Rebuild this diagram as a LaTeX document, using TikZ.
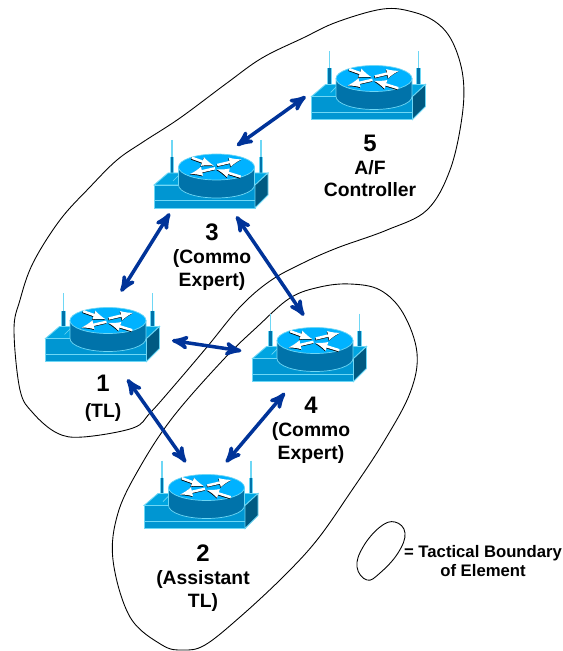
\documentclass[tikz,border=0pt]{standalone}
\usepackage{fontspec}
\setmainfont{Liberation Sans}
\usetikzlibrary{arrows}
\definecolor{linkblue}{RGB}{0,51,153}
\definecolor{routerline}{RGB}{110,215,245}
\definecolor{routerfront}{RGB}{0,150,210}
\definecolor{routertop}{RGB}{0,165,225}
\definecolor{routerside}{RGB}{0,90,130}
\definecolor{drumside}{RGB}{0,115,170}
\definecolor{drumtop}{RGB}{0,178,255}
\newcommand{\bignum}[1]{{\fontsize{13.6}{13}\selectfont #1}}
\tikzset{
	routerbox/.style={minimum width=2.28cm, minimum height=1.36cm, inner sep=0pt},
	link/.style={<->, >=stealth', draw=linkblue, line width=2pt},
	boundary/.style={draw=black, line width=0.5pt},
	rlabel/.style={align=center, font=\bfseries\fontsize{11}{13}\selectfont},
	pics/router/.style={code={
		% antennas
		\foreach \ax in {18,107} {
			\draw[routerline, line width=1pt] (\ax,-45) -- (\ax,-28);
			\draw[routerline, line width=2.4pt] (\ax,-28) -- (\ax,-8);
			\draw[drumside, line width=1.5pt] (\ax,-28) -- (\ax,-8);
		}
		\draw[routerline, fill=routertop, line width=0.5pt] (0,0) -- (14,-12) -- (114,-12) -- (101,0) -- cycle;
		\draw[routerline, fill=routerfront, line width=0.5pt] (0,0) rectangle (101,23);
		\draw[routerline, line width=0.5pt] (0,15.5) -- (101,15.5);
		\draw[routerline, fill=routerside, line width=0.5pt] (101,0) -- (114,-12) -- (114,10) -- (101,23) -- cycle;
		\draw[routerline, line width=0.4pt] (19,-4) -- (25,-10);
		% drum
		\draw[routerline, fill=drumside, line width=0.4pt] (24.5,-18) -- (24.5,0) arc[start angle=180, end angle=0, x radius=38, y radius=13] -- (100.5,-18) -- cycle;
		\draw[routerline, fill=drumtop, line width=0.4pt] (62.5,-18) ellipse[x radius=38, y radius=13];
		\foreach \ex/\ey/\fx/\fy in {37.7/-27.3/60/-19.3, 63.3/-20/87.7/-25.7, 61/-16.7/36/-11, 86.7/-8.3/62.7/-15.7} {
			\draw[black, line width=1.4pt, -latex] (\ex-0.5,\ey+0.7) -- (\fx-0.5,\fy+0.7);
			\draw[white, line width=1.4pt, -latex] (\ex,\ey) -- (\fx,\fy);
		}
	}}
}
\begin{document}
\begin{tikzpicture}[x=0.02cm,y=-0.02cm]
	\useasboundingbox (0,0) rectangle (563,651);
	
	% tactical boundaries
	\draw[boundary] plot[smooth cycle, tension=0.6] coordinates {(383,9) (413,12) (437,23) (453,43) (463,77) (462,117) (450,170) (427,210) (387,230) (337,248) (303,263) (270,281) (240,307) (207,347) (173,387) (150,413) (133,428) (83,437) (57,433) (33,413) (20,390) (14,330) (20,300) (33,263) (60,220) (90,187) (117,160) (143,142) (180,118) (227,83) (262,58) (303,38) (337,22)};
	\draw[boundary] plot[smooth cycle, tension=0.6] coordinates {(350,284) (380,290) (403,313) (417,353) (410,393) (383,443) (350,493) (317,540) (283,577) (240,617) (205,645) (183,650) (162,645) (130,617) (113,560) (118,513) (140,467) (173,417) (223,360) (257,327) (290,298) (320,287)};
	\draw[boundary] plot[smooth cycle, tension=0.7] coordinates {(395,522) (405,533) (398,553) (380,573) (367,580) (357,567) (363,547) (380,527)};
	
	% routers
	\node[routerbox] (r1) at (102.5,327.5) {};
	\node[routerbox] (r2) at (201,494.5) {};
	\node[routerbox] (r3) at (211,174) {};
	\node[routerbox] (r4) at (309.5,347.5) {};
	\node[routerbox] (r5) at (368.5,85.5) {};
	\pic at (45.5,338.5) {router};
	\pic at (144,505.5) {router};
	\pic at (154,185) {router};
	\pic at (252.5,358.5) {router};
	\pic at (311.5,96.5) {router};
	
	% links
	\draw[link, shorten <=-0.206cm, shorten >=0.135cm] (r3.45) -- (r5.187);
	\draw[link, shorten <=0.118cm, shorten >=0.036cm] (r3.222) -- (r1.63);
	\draw[link, shorten <=0.194cm, shorten >=-0.06cm] (r3.-60) -- (r4.102);
	\draw[link, shorten <=0.246cm, shorten >=0.218cm] (r1.-11) -- (r4.185);
	\draw[link, shorten <=0.428cm, shorten >=-0.054cm] (r1.-70) -- (r2.116);
	\draw[link, shorten <=0.292cm, shorten >=-0.058cm] (r4.246) -- (r2.52);
	
	% labels
	\node[rlabel] (t1) at (103,398) {\bignum{1}\\[2pt](TL)};
	\node[rlabel] (t2) at (203,578) {\bignum{2}\\(Assistant\\TL)};
	\node[rlabel] (t3) at (212,257) {\bignum{3}\\(Commo\\Expert)};
	\node[rlabel] (t4) at (311,430) {\bignum{4}\\(Commo\\Expert)};
	\node[rlabel] (t5) at (370,166) {\bignum{5}\\A/F\\Controller};
	\node[rlabel, font=\bfseries\fontsize{9.5}{10.8}\selectfont] (key) at (483,561) {= Tactical Boundary\\of Element};
\end{tikzpicture}
\end{document}
